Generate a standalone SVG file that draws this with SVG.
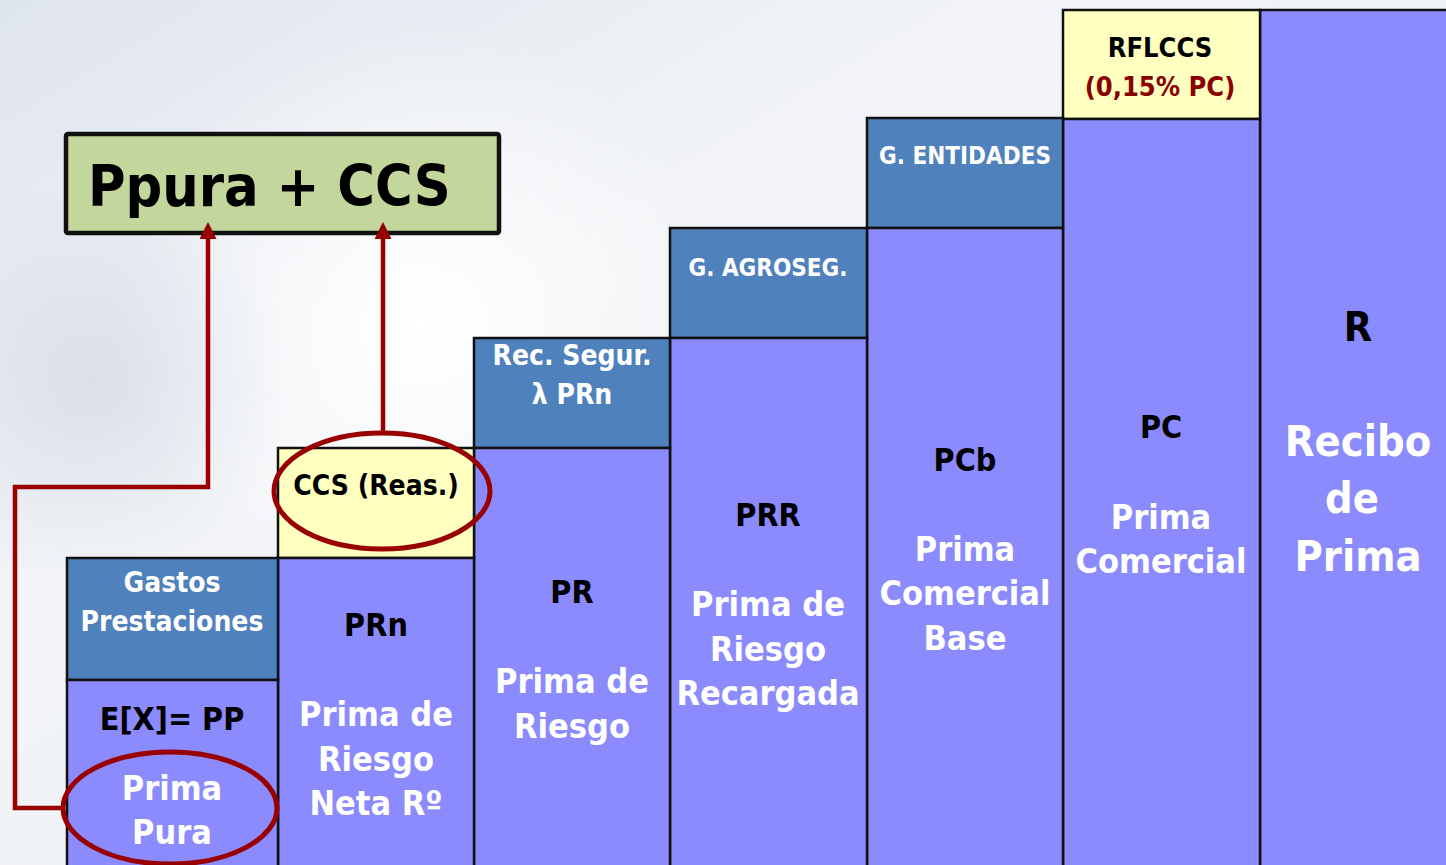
<svg xmlns="http://www.w3.org/2000/svg" width="1446" height="865" viewBox="0 0 1446 865">
<defs>
<linearGradient id="bg" x1="0" y1="0" x2="1" y2="1">
<stop offset="0" stop-color="#dfe5ee"/>
<stop offset="0.35" stop-color="#f2f4f7"/>
<stop offset="0.7" stop-color="#eef1f5"/>
<stop offset="1" stop-color="#e3e8ef"/>
</linearGradient>
<radialGradient id="glow" cx="420" cy="320" r="300" gradientUnits="userSpaceOnUse">
<stop offset="0" stop-color="#ffffff" stop-opacity="1"/>
<stop offset="1" stop-color="#ffffff" stop-opacity="0"/>
</radialGradient>
<radialGradient id="cloud" cx="90" cy="380" r="200" gradientUnits="userSpaceOnUse">
<stop offset="0" stop-color="#d6dce6" stop-opacity="0.8"/>
<stop offset="1" stop-color="#d6dce6" stop-opacity="0"/>
</radialGradient>
<marker id="arr" viewBox="0 0 10 10" refX="7" refY="5" markerWidth="17" markerHeight="17" markerUnits="userSpaceOnUse" orient="auto">
<path d="M0,0 L10,5 L0,10 z" fill="#990000"/>
</marker>
<style>
.t{font-family:"DejaVu Sans Condensed","DejaVu Sans",sans-serif;font-weight:bold;text-anchor:middle;font-stretch:condensed}
.w{fill:#ffffff}
.k{fill:#000000}
.pur{fill:#8b8bfd;stroke:#111;stroke-width:2.5}
.blu{fill:#4f81bd;stroke:#111;stroke-width:2.5}
.yel{fill:#ffffc0;stroke:#111;stroke-width:2.5}
.conn{fill:none;stroke:#990000;stroke-width:4.5}
.ell{fill:none;stroke:#990000;stroke-width:5}
</style>
</defs>
<rect x="0" y="0" width="1446" height="865" fill="url(#bg)"/>
<rect x="0" y="0" width="1446" height="865" fill="url(#glow)"/>
<rect x="0" y="0" width="1446" height="865" fill="url(#cloud)"/>

<g id="target">
<rect x="66" y="134" width="433" height="99" rx="2" fill="#c3d69b" stroke="#111" stroke-width="4.5"/>
<text class="t k" x="88" y="206" font-size="57" style="text-anchor:start">Ppura + CCS</text>
</g>

<g id="col7">
<rect class="pur" x="1260" y="10" width="200" height="860"/>
<text class="t k" x="1358" y="341" font-size="41">R</text>
<text class="t w" x="1358" y="456" font-size="43">Recibo</text>
<text class="t w" x="1352" y="513" font-size="43">de</text>
<text class="t w" x="1358" y="571" font-size="43">Prima</text>
</g>

<g id="col6">
<rect class="yel" x="1063" y="10" width="197" height="109"/>
<rect class="pur" x="1063" y="119" width="197" height="751"/>
<text class="t k" x="1160" y="57" font-size="27">RFLCCS</text>
<text class="t" x="1160" y="96" font-size="27" fill="#8b0000">(0,15% PC)</text>
<text class="t k" x="1161" y="438" font-size="32">PC</text>
<text class="t w" x="1161" y="529" font-size="34">Prima</text>
<text class="t w" x="1161" y="573" font-size="34">Comercial</text>
</g>

<g id="col5">
<rect class="blu" x="867" y="118" width="196" height="110"/>
<rect class="pur" x="867" y="228" width="196" height="642"/>
<text class="t w" x="965" y="164" font-size="24">G. ENTIDADES</text>
<text class="t k" x="965" y="471" font-size="32">PCb</text>
<text class="t w" x="965" y="561" font-size="34">Prima</text>
<text class="t w" x="965" y="605" font-size="34">Comercial</text>
<text class="t w" x="965" y="650" font-size="34">Base</text>
</g>

<g id="col4">
<rect class="blu" x="670" y="228" width="197" height="110"/>
<rect class="pur" x="670" y="338" width="197" height="532"/>
<text class="t w" x="768" y="276" font-size="24">G. AGROSEG.</text>
<text class="t k" x="768" y="526" font-size="32">PRR</text>
<text class="t w" x="768" y="616" font-size="34">Prima de</text>
<text class="t w" x="768" y="661" font-size="34">Riesgo</text>
<text class="t w" x="768" y="705" font-size="34">Recargada</text>
</g>

<g id="col3">
<rect class="blu" x="474" y="338" width="196" height="110"/>
<rect class="pur" x="474" y="448" width="196" height="422"/>
<text class="t w" x="572" y="365" font-size="28">Rec. Segur.</text>
<text class="t w" x="572" y="404" font-size="28">λ PRn</text>
<text class="t k" x="572" y="603" font-size="32">PR</text>
<text class="t w" x="572" y="693" font-size="34">Prima de</text>
<text class="t w" x="572" y="738" font-size="34">Riesgo</text>
</g>

<g id="col2">
<rect class="yel" x="278" y="448" width="196" height="110"/>
<rect class="pur" x="278" y="558" width="196" height="312"/>
<text class="t k" x="376" y="495" font-size="28">CCS (Reas.)</text>
<ellipse class="ell" cx="382" cy="491" rx="108" ry="58"/>
<text class="t k" x="376" y="636" font-size="32">PRn</text>
<text class="t w" x="376" y="726" font-size="34">Prima de</text>
<text class="t w" x="376" y="771" font-size="34">Riesgo</text>
<text class="t w" x="376" y="815" font-size="34">Neta Rº</text>
</g>

<g id="col1">
<rect class="blu" x="67" y="558" width="211" height="122"/>
<rect class="pur" x="67" y="680" width="211" height="190"/>
<text class="t w" x="172" y="592" font-size="28">Gastos</text>
<text class="t w" x="172" y="631" font-size="28">Prestaciones</text>
<text class="t k" x="172" y="730" font-size="32">E[X]= PP</text>
<text class="t w" x="172" y="800" font-size="34">Prima</text>
<text class="t w" x="172" y="844" font-size="34">Pura</text>
<ellipse class="ell" cx="170" cy="808" rx="107" ry="56"/>
</g>

<g id="connectors">
<path class="conn" d="M63,808 H15 V487 H208 V227" marker-end="url(#arr)"/>
<path class="conn" d="M383,433 V227" marker-end="url(#arr)"/>
</g>
</svg>
